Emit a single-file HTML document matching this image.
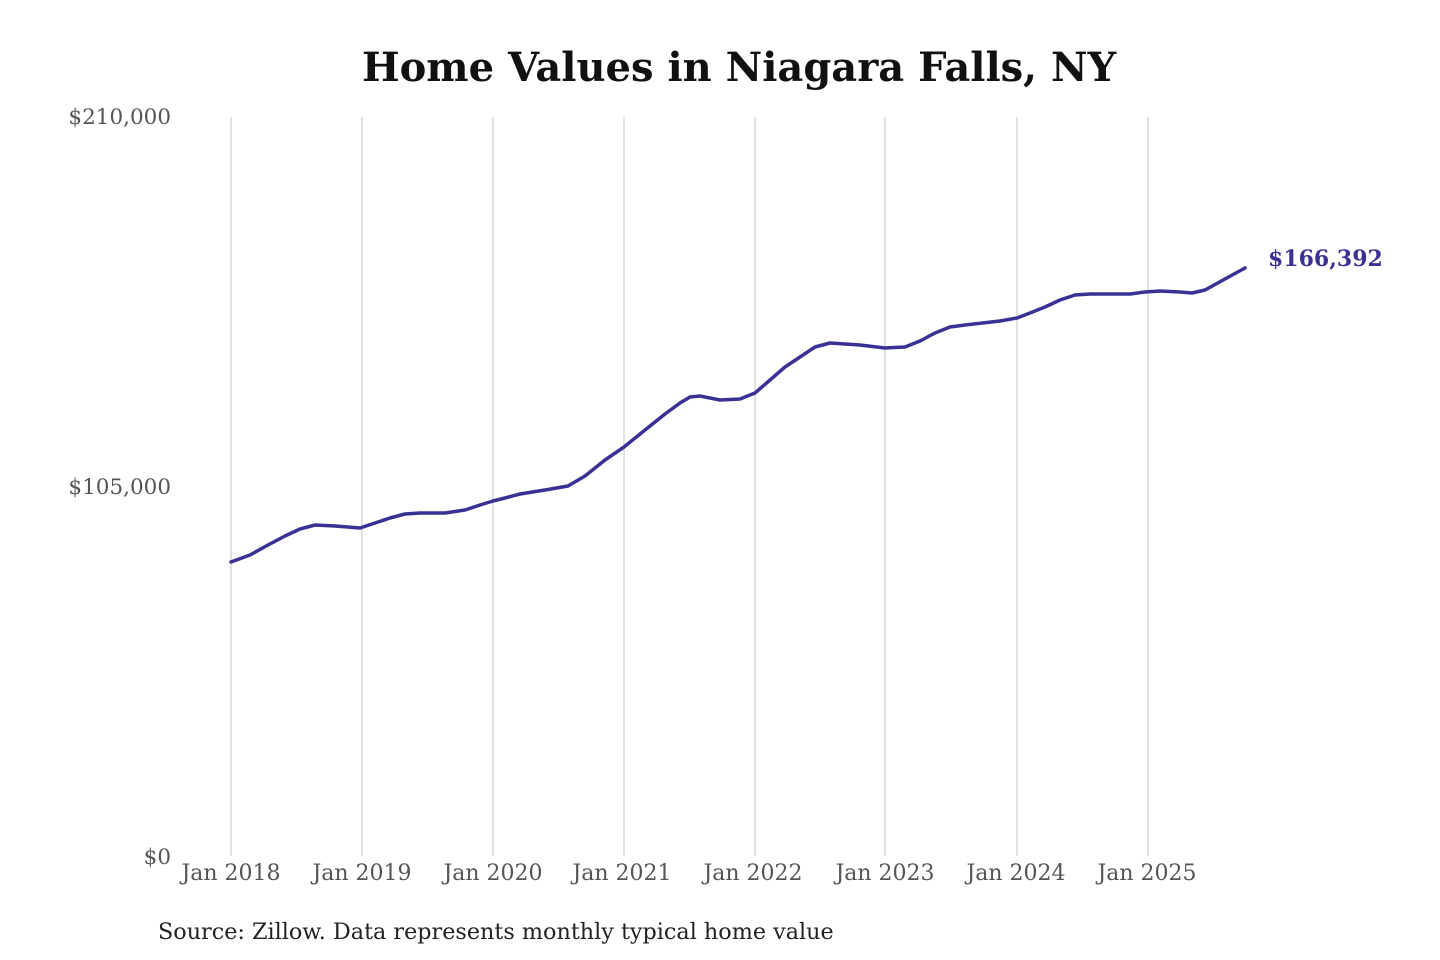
<!DOCTYPE html>
<html><head><meta charset="utf-8"><style>html,body{margin:0;padding:0;background:#fff}svg{display:block}</style></head>
<body>
<svg width="1440" height="960" viewBox="0 0 1440 960" xmlns="http://www.w3.org/2000/svg" font-family="DejaVu Serif, Liberation Serif, serif">
<rect width="1440" height="960" fill="#fff"/>
<text x="739" y="81" text-anchor="middle" font-size="40" font-weight="bold" fill="#111">Home Values in Niagara Falls, NY</text>
<g stroke="#cfcfcf" stroke-width="1.2">
<line x1="231" y1="117" x2="231" y2="856"/>
<line x1="362" y1="117" x2="362" y2="856"/>
<line x1="493" y1="117" x2="493" y2="856"/>
<line x1="624" y1="117" x2="624" y2="856"/>
<line x1="755" y1="117" x2="755" y2="856"/>
<line x1="885" y1="117" x2="885" y2="856"/>
<line x1="1017" y1="117" x2="1017" y2="856"/>
<line x1="1148" y1="117" x2="1148" y2="856"/>
</g>
<g font-size="21.5" fill="#555" text-anchor="end">
<text x="171" y="124">$210,000</text>
<text x="171" y="494">$105,000</text>
<text x="171" y="864">$0</text>
</g>
<g font-size="22" fill="#555" text-anchor="middle">
<text x="231" y="880">Jan 2018</text>
<text x="362" y="880">Jan 2019</text>
<text x="493" y="880">Jan 2020</text>
<text x="622" y="880">Jan 2021</text>
<text x="753" y="880">Jan 2022</text>
<text x="885" y="880">Jan 2023</text>
<text x="1016" y="880">Jan 2024</text>
<text x="1147" y="880">Jan 2025</text>
</g>
<polyline fill="none" stroke="#3a3195" stroke-width="3.5" stroke-linejoin="round" stroke-linecap="round"
points="231,562 250,555 268,545 285,536 300,529 315,525 335,526 360,528 375,523 390,518 405,514 420,513 445,513 465,510 480,505 493,501 505,498 520,494 545,490 568,486 585,476 605,460 624,447 645,430 665,414 680,403 690,397 700,396 720,400 740,399 755,393 770,380 785,367 800,357 815,347 830,343 860,345 885,348 905,347 920,341 935,333 950,327 965,325 1000,321 1017,318 1030,313 1045,307 1060,300 1075,295 1090,294 1130,294 1145,292 1160,291 1180,292 1192,293 1205,290 1225,279 1245,268"/>
<text x="1268" y="266" font-size="22" font-weight="bold" fill="#3a3195">$166,392</text>
<text x="158" y="939" font-size="22.3" fill="#222">Source: Zillow. Data represents monthly typical home value</text>
</svg>
</body></html>
